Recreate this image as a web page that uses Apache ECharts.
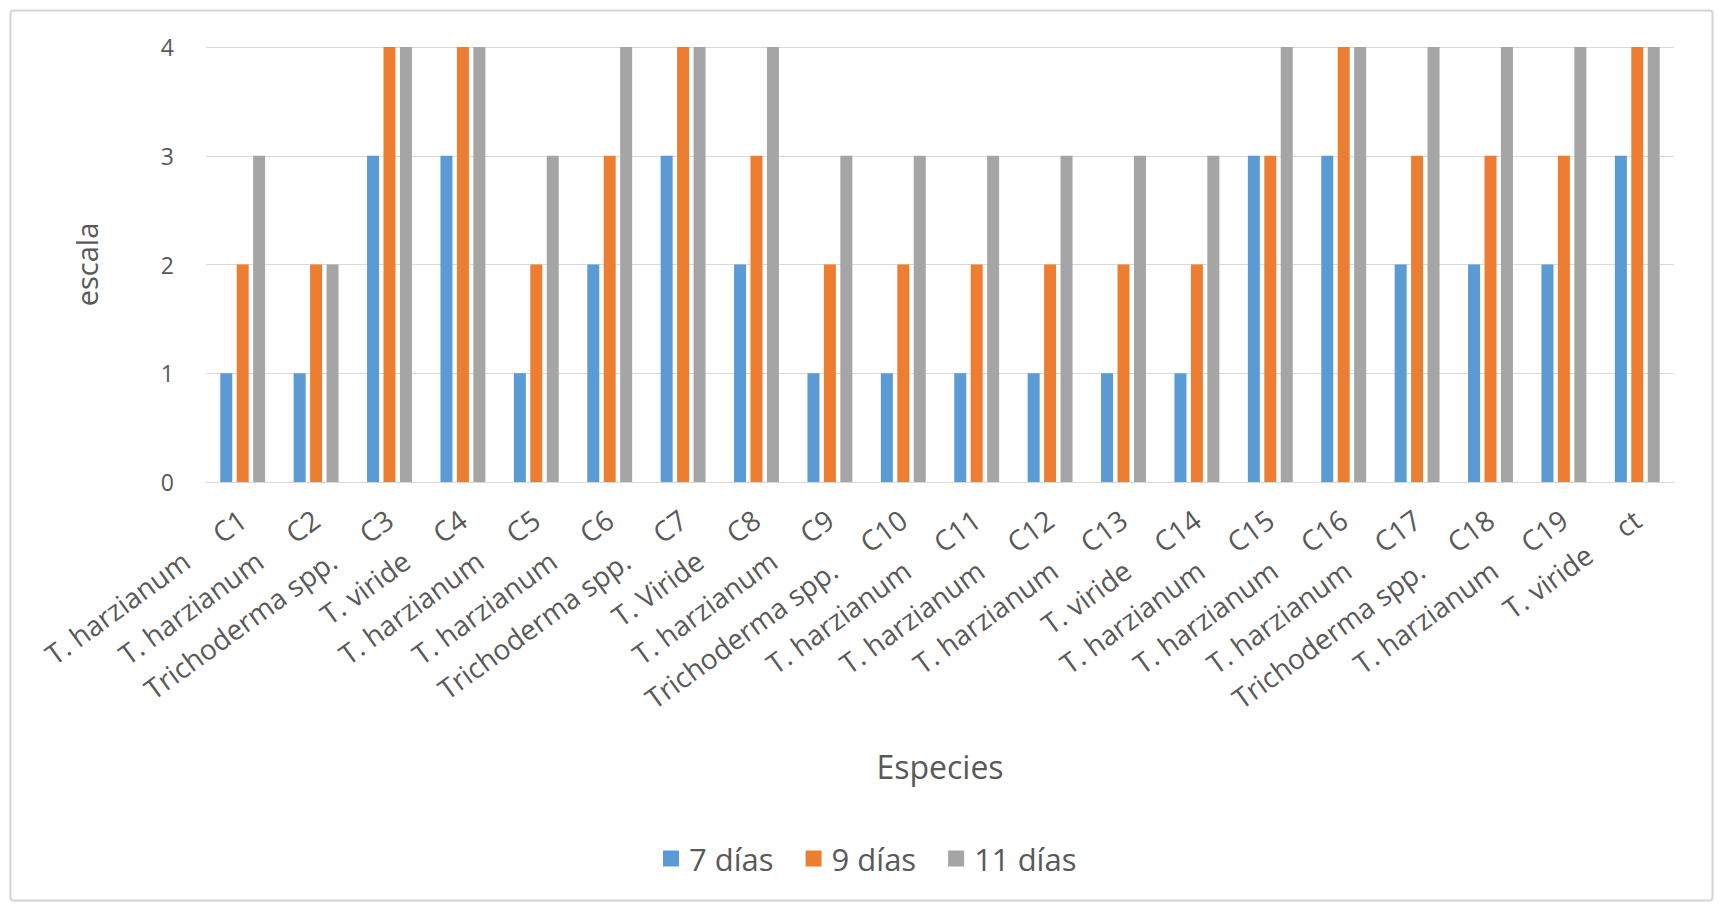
<!DOCTYPE html>
<html>
<head>
<meta charset="utf-8">
<script src="https://cdn.jsdelivr.net/npm/echarts@6/dist/echarts.min.js"></script>
<style>
html,body{margin:0;padding:0;background:#fff;}
#chart{width:1719px;height:905px;}
</style>
</head>
<body>
<div id="chart"></div>
<script>
const codes = ['C1','C2','C3','C4','C5','C6','C7','C8','C9','C10','C11','C12','C13','C14','C15','C16','C17','C18','C19','ct'];
const species = ['T. harzianum','T. harzianum','Trichoderma spp.','T. viride','T. harzianum','T. harzianum','Trichoderma spp.','T. Viride','T. harzianum','Trichoderma spp.','T. harzianum','T. harzianum','T. harzianum','T. viride','T. harzianum','T. harzianum','T. harzianum','Trichoderma spp.','T. harzianum','T. viride'];
const dias7 = [1,1,3,3,1,2,3,2,1,1,1,1,1,1,3,3,2,2,2,3];
const dias9 = [2,2,4,4,2,3,4,3,2,2,2,2,2,2,3,4,3,3,3,4];
const dias11 = [3,2,4,4,3,4,4,4,3,3,3,3,3,3,4,4,4,4,4,4];
const seriesNames = ['7 días','9 días','11 días'];
const yTicks = [0,1,2,3,4];

const FONT = '"Open Sans", sans-serif';
const TXT = '#595959';
const chart = echarts.init(document.getElementById('chart'), null, {renderer:'svg'});
const labels = codes.map((c,i) => species[i] + '     ' + c);
const mkBar = (name, data, color) => ({
  name, type:'bar', data, barWidth:12, barGap:'37%',
  itemStyle:{color}
});
chart.setOption({
  animation:false,
  backgroundColor:'#fff',
  textStyle:{fontFamily:FONT},
  graphic:[{
    type:'rect', left:8, top:8, shape:{width:1702, height:890, r:3},
    style:{fill:'none', stroke:'#d4d4d4', lineWidth:2}, z:-1
  }],
  grid:{left:206, right:45, top:47, bottom:423},
  legend:{
    data:seriesNames, left:658, top:838, itemWidth:16, itemHeight:16, itemGap:32,
    icon:'rect',
    textStyle:{fontFamily:FONT, fontSize:31, color:TXT, padding:[0,0,0,5]}
  },
  xAxis:{
    type:'category', data:labels,
    name:'Especies', nameLocation:'middle', nameGap:268,
    nameTextStyle:{fontFamily:FONT, fontSize:32, color:TXT},
    axisLine:{lineStyle:{color:'#d9d9d9', width:1}},
    axisTick:{show:false},
    axisLabel:{rotate:36, interval:0, margin:34, fontFamily:FONT, fontSize:28, color:TXT}
  },
  yAxis:{
    type:'value', min:0, max:4, interval:1,
    name:'escala', nameLocation:'middle', nameGap:105, nameRotate:90,
    nameTextStyle:{fontFamily:FONT, fontSize:29, color:TXT},
    axisLine:{show:false}, axisTick:{show:false},
    splitLine:{lineStyle:{color:'#d9d9d9', width:1}},
    axisLabel:{margin:32, fontFamily:FONT, fontSize:23, color:TXT,
      formatter: v => yTicks.includes(v) ? String(v) : ''}
  },
  series:[
    mkBar(seriesNames[0], dias7, '#5B9BD5'),
    mkBar(seriesNames[1], dias9, '#ED7D31'),
    mkBar(seriesNames[2], dias11, '#A5A5A5')
  ]
});
</script>
</body>
</html>
